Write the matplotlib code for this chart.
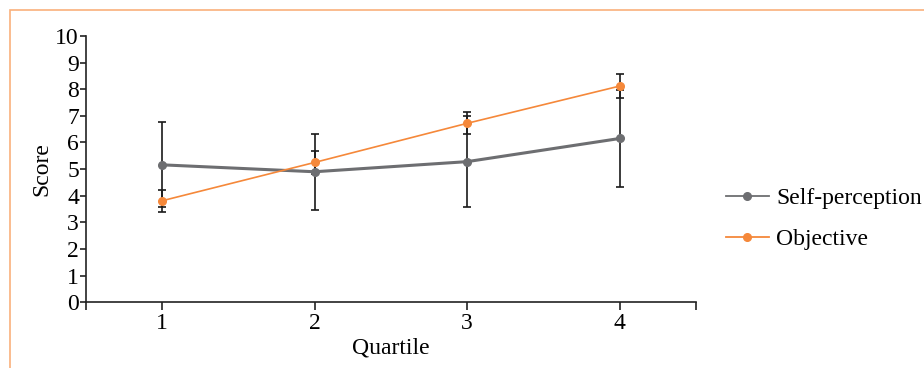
import matplotlib.pyplot as plt
from matplotlib.lines import Line2D
from matplotlib.patches import Rectangle

quartiles = [1, 2, 3, 4]
self_perception = [5.16, 4.90, 5.28, 6.15]
self_perception_err = [1.60, 1.42, 1.71, 1.82]
objective = [3.81, 5.25, 6.72, 8.12]
objective_err = [0.41, 0.43, 0.41, 0.44]

gray = '#6d6e71'
orange = '#f5883a'

plt.rcParams['font.family'] = ['Liberation Serif', 'DejaVu Serif']

fig = plt.figure(figsize=(9.24, 3.68), dpi=100)
ax = fig.add_axes([0.093, 0.179, 0.660, 0.723])

# orange frame round the figure
fig.patches.append(Rectangle((10 / 924, -0.1), 1.2, 1 - 10 / 368 + 0.1,
                             transform=fig.transFigure, fill=False,
                             edgecolor='#f9b07c', linewidth=1.2))

ax.errorbar(quartiles, self_perception, yerr=self_perception_err, fmt='none',
            ecolor='#1a1a1a', elinewidth=1.2, capsize=3, capthick=1.2, zorder=2)
ax.errorbar(quartiles, objective, yerr=objective_err, fmt='none',
            ecolor='#1a1a1a', elinewidth=1.2, capsize=3, capthick=1.2, zorder=2)
ax.plot(quartiles, self_perception, '-o', color=gray, linewidth=2.2,
        markersize=5.5, zorder=3)
ax.plot(quartiles, objective, '-o', color=orange, linewidth=1.2,
        markersize=5.5, zorder=4)

ax.set_xlim(0.5, 4.5)
ax.set_ylim(0, 10)
ax.set_xticks([0.5, 1, 2, 3, 4, 4.5])
ax.set_xticklabels(['', '1', '2', '3', '4', ''])
ax.set_yticks(range(0, 11))
ax.tick_params(axis='both', labelsize=17, direction='out', color='#222222')
ax.tick_params(axis='x', length=6, width=1.2, pad=2)
ax.tick_params(axis='y', length=4, width=1.2, pad=1)

for side in ['top', 'right']:
    ax.spines[side].set_visible(False)
for side in ['left', 'bottom']:
    ax.spines[side].set_linewidth(1.2)
    ax.spines[side].set_color('#222222')

ax.set_xlabel('Quartile', fontsize=17, labelpad=2)
ax.set_ylabel('Score', fontsize=17, labelpad=2)

handles = [
    Line2D([], [], color=gray, linewidth=1.3, marker='o', markersize=5.5),
    Line2D([], [], color=orange, linewidth=1.3, marker='o', markersize=5.5),
]
fig.legend(handles, ['Self-perception', 'Objective'], loc='center left',
           bbox_to_anchor=(0.775, 0.405), frameon=False, fontsize=17,
           handlelength=1.85, handletextpad=0.3, labelspacing=0.82,
           borderaxespad=0)

fig.savefig('out.png', dpi=100)
